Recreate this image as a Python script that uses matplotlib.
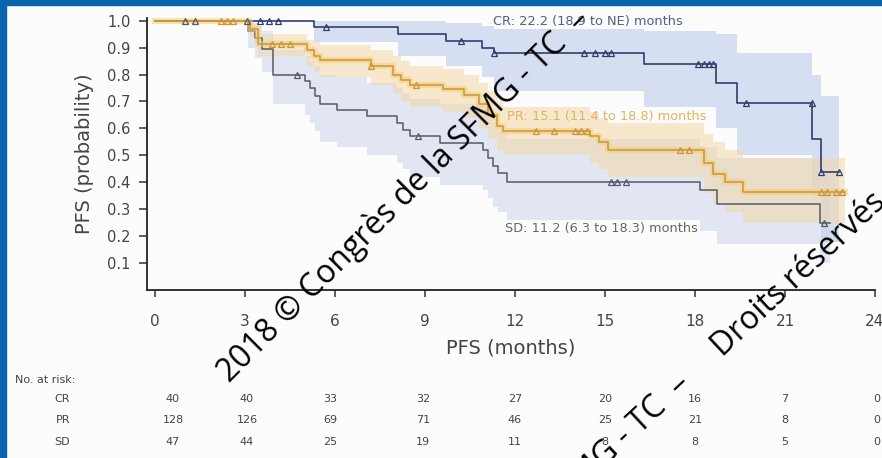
import matplotlib
matplotlib.use('Agg')

import matplotlib.pyplot as plt
import matplotlib.patches as mpatches

# Kaplan-Meier step data (months, survival) for each response group
cr_t = [0, 5.3, 8.1, 9.7, 10.9, 11.3, 16.3, 18.7, 19.4, 21.9, 22.2, 22.8]
cr_s = [1.0, 0.975, 0.95, 0.925, 0.90, 0.88, 0.84, 0.77, 0.695, 0.56, 0.44, 0.44]
cr_lo = [1.0, 0.92, 0.87, 0.83, 0.79, 0.74, 0.68, 0.60, 0.50, 0.35, 0.18, 0.18]
cr_hi = [1.0, 1.0, 1.0, 0.99, 0.98, 0.97, 0.96, 0.95, 0.88, 0.80, 0.72, 0.72]
cr_cens_t = [3.5, 3.8, 4.1, 5.7, 10.2, 11.3, 14.3, 14.65, 15.0, 15.2, 18.1, 18.3, 18.45, 18.6, 19.7, 21.9, 22.2, 22.8]
cr_cens_s = [1.0, 1.0, 1.0, 0.975, 0.925, 0.88, 0.88, 0.88, 0.88, 0.88, 0.84, 0.84, 0.84, 0.84, 0.695, 0.695, 0.44, 0.44]

pr_t = [0, 3.17, 3.43, 5.07, 5.3, 5.5, 7.2, 7.93, 8.2, 8.5, 9.6, 10.3, 10.8, 11.1, 11.4, 11.6,
        14.5, 14.8, 15.1, 18.3, 18.6, 19.0, 19.6, 23.0]
pr_s = [1.0, 0.97, 0.915, 0.89, 0.87, 0.855, 0.83, 0.80, 0.78, 0.76, 0.745, 0.725, 0.69, 0.65, 0.61, 0.59,
        0.57, 0.55, 0.52, 0.47, 0.43, 0.40, 0.365, 0.365]
pr_lo = [1.0, 0.94, 0.87, 0.83, 0.81, 0.79, 0.76, 0.73, 0.70, 0.68, 0.66, 0.64, 0.60, 0.56, 0.52, 0.50,
         0.47, 0.45, 0.42, 0.36, 0.32, 0.29, 0.25, 0.25]
pr_hi = [1.0, 0.99, 0.95, 0.93, 0.92, 0.91, 0.89, 0.87, 0.85, 0.83, 0.82, 0.80, 0.77, 0.74, 0.70, 0.68,
         0.66, 0.64, 0.62, 0.58, 0.55, 0.52, 0.49, 0.49]
pr_cens_t = [2.2, 2.4, 2.6, 3.9, 4.2, 4.5, 7.2, 8.7, 12.7, 13.3, 14.0, 14.2, 14.4, 17.5, 17.8, 22.2, 22.4, 22.7, 22.9]
pr_cens_s = [1.0, 1.0, 1.0, 0.915, 0.915, 0.915, 0.83, 0.76, 0.59, 0.59, 0.59, 0.59, 0.59, 0.52, 0.52,
             0.365, 0.365, 0.365, 0.365]

sd_t = [0, 3.1, 3.33, 3.57, 3.93, 5.0, 5.17, 5.33, 5.5, 6.07, 7.07, 8.07, 8.27, 8.5, 9.5, 10.93,
        11.1, 11.27, 11.43, 11.73, 18.17, 18.73, 22.17, 22.5]
sd_s = [1.0, 0.96, 0.935, 0.895, 0.80, 0.775, 0.75, 0.72, 0.69, 0.67, 0.645, 0.62, 0.595, 0.57, 0.545, 0.52,
        0.49, 0.46, 0.435, 0.40, 0.37, 0.32, 0.25, 0.25]
sd_lo = [1.0, 0.90, 0.86, 0.81, 0.69, 0.65, 0.62, 0.59, 0.55, 0.53, 0.50, 0.47, 0.45, 0.42, 0.39, 0.37,
         0.34, 0.31, 0.29, 0.26, 0.22, 0.17, 0.10, 0.10]
sd_hi = [1.0, 0.99, 0.98, 0.96, 0.89, 0.87, 0.85, 0.83, 0.80, 0.79, 0.77, 0.75, 0.73, 0.71, 0.69, 0.67,
         0.64, 0.61, 0.59, 0.56, 0.53, 0.49, 0.43, 0.43]
sd_cens_t = [1.0, 1.33, 3.07, 4.73, 8.77, 15.2, 15.4, 15.7, 22.3]
sd_cens_s = [1.0, 1.0, 1.0, 0.80, 0.57, 0.40, 0.40, 0.40, 0.25]

# number-at-risk table
risk_times = [0, 3, 6, 9, 12, 15, 18, 21, 24]
risk_groups = ['CR', 'PR', 'SD']
risk_cr = [40, 40, 33, 32, 27, 20, 16, 7, 0]
risk_pr = [128, 126, 69, 71, 46, 25, 21, 8, 0]
risk_sd = [47, 44, 25, 19, 11, 8, 8, 5, 0]

median_labels = ['CR: 22.2 (18.9 to NE) months',
                 'PR: 15.1 (11.4 to 18.8) months',
                 'SD: 11.2 (6.3 to 18.3) months']

watermark = '2018 \u00a9 Congr\u00e8s de la SFMG - TC  \u2013     Droits r\u00e9serv\u00e9s'

CR_COL = '#2e3f6c'
PR_COL = '#c9963c'
SD_COL = '#555b66'
TXT = '#444444'

plt.rcParams['font.family'] = ['DejaVu Sans']

W, H = 882, 458
fig = plt.figure(figsize=(W / 100, H / 100), dpi=100)
fig.patch.set_facecolor('#fcfcfc')

# x=0 sits at 155 px, 30 px per month; y=0 at 290 px, 269 px per unit
ax = fig.add_axes([147 / W, 1 - 290 / H, 728 / W, 272 / H])
ax.set_facecolor('none')

# confidence bands
ax.fill_between(sd_t, sd_lo, sd_hi, step='post', color='#d1d8ee', alpha=0.6, lw=0)
ax.fill_between(cr_t, cr_lo, cr_hi, step='post', color='#c2d0ee', alpha=0.65, lw=0)
ax.fill_between(pr_t, pr_lo, pr_hi, step='post', color='#f2d9ae', alpha=0.6, lw=0)

# survival curves
ax.step(sd_t, sd_s, where='post', color=SD_COL, lw=1.1)
ax.step(cr_t, cr_s, where='post', color=CR_COL, lw=1.2)
ax.step(pr_t, pr_s, where='post', color='#f3cf72', lw=4.5, alpha=0.55)
ax.step(pr_t, pr_s, where='post', color=PR_COL, lw=1.1)

# censor marks
ax.plot(sd_cens_t, sd_cens_s, ls='none', marker='^', ms=4, mfc='none', mec=SD_COL, mew=0.9)
ax.plot(cr_cens_t, cr_cens_s, ls='none', marker='^', ms=4, mfc='none', mec=CR_COL, mew=0.9)
ax.plot(pr_cens_t, pr_cens_s, ls='none', marker='^', ms=4, mfc='none', mec=PR_COL, mew=0.9)

# median PFS annotations
ax.text(11.27, 0.996, median_labels[0], color='#4d5f82', fontsize=9.3, va='center')
ax.text(11.73, 0.643, median_labels[1], color='#e2b25e', fontsize=9.3, va='center')
ax.text(11.67, 0.23, median_labels[2], color='#666666', fontsize=9.3, va='center')

ax.set_xlim(-0.27, 24)
ax.set_ylim(0, 1.01)
ax.set_xticks(risk_times)
ax.set_yticks([0.1, 0.2, 0.3, 0.4, 0.5, 0.6, 0.7, 0.8, 0.9, 1.0])
ax.set_yticklabels(['0.1', '0.2', '0.3', '0.4', '0.5', '0.6', '0.7', '0.8', '0.9', '1.0'])
for side in ['top', 'right']:
    ax.spines[side].set_visible(False)
for side in ['left', 'bottom']:
    ax.spines[side].set_color('#222222')
    ax.spines[side].set_linewidth(1.3)
ax.tick_params(axis='y', length=6, width=1.1, color='#333333', labelsize=10.5, labelcolor=TXT, pad=6)
ax.tick_params(axis='x', length=5, width=1.1, color='#333333', labelsize=11, labelcolor=TXT, pad=12)
ax.set_xlabel('PFS (months)', fontsize=14, color=TXT, labelpad=7)
ax.set_ylabel('PFS (probability)', fontsize=14, color=TXT, labelpad=9)

# number at risk
col_px = [173, 247, 330, 423, 515, 605, 695, 785, 877]
row_px = [399, 420, 442]
fig.text(15 / W, 1 - 380 / H, 'No. at risk:', fontsize=8, color=TXT, va='center')
for yp, grp, vals in zip(row_px, risk_groups, [risk_cr, risk_pr, risk_sd]):
    y = 1 - yp / H
    fig.text(70 / W, y, grp, fontsize=8, color=TXT, ha='right', va='center')
    for xp, v in zip(col_px, vals):
        fig.text(xp / W, y, str(v), fontsize=8, color=TXT, ha='center', va='center')

# repeated watermark
for x0, y0, rot in [(229, 383, 45), (318, 735, 43)]:
    fig.text(x0 / W, 1 - y0 / H, watermark, rotation=rot, rotation_mode='anchor',
             ha='left', va='baseline', fontsize=23, color='black',
             family=['Open Sans', 'DejaVu Sans'], zorder=10)

# blue frame
fig.patches.append(mpatches.Rectangle((0, 1 - 5 / H), 1, 5 / H, transform=fig.transFigure,
                                      color='#0a64ad', zorder=20))
fig.patches.append(mpatches.Rectangle((0, 0), 6 / W, 1, transform=fig.transFigure,
                                      color='#0a64ad', zorder=20))

fig.savefig('out.png', dpi=100, facecolor=fig.get_facecolor())
